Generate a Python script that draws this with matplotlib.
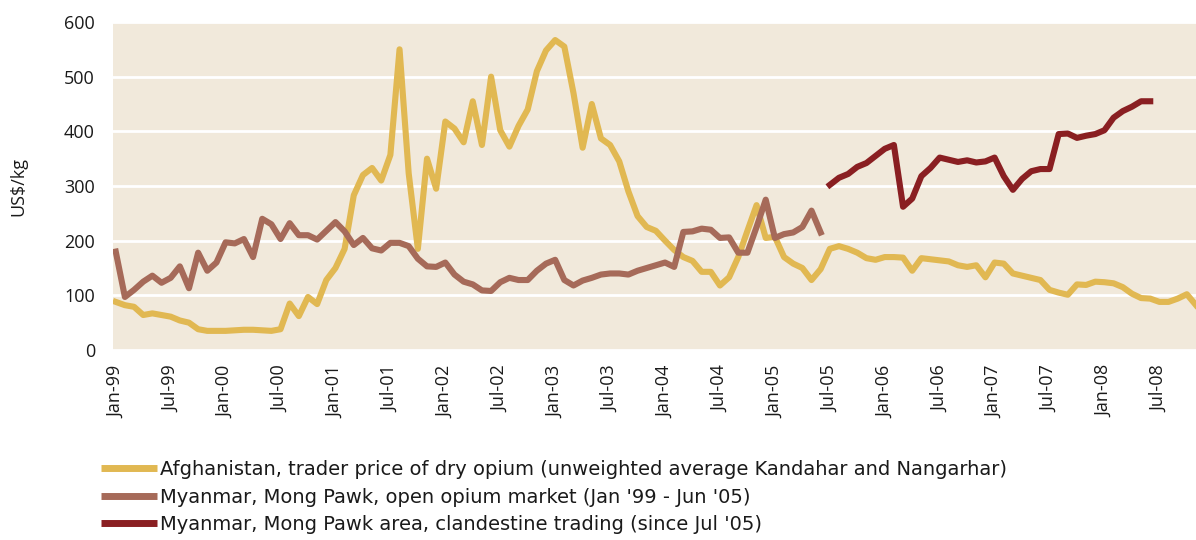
import numpy as np
import matplotlib
matplotlib.use("Agg")
import matplotlib.pyplot as plt

# monthly prices, US$/kg, index 0 = Jan-99
afghanistan = [
    88, 82, 79, 64, 67, 64, 61, 54, 50, 38, 35, 35,
    35, 36, 37, 37, 36, 35, 38, 85, 62, 97, 84, 128,
    150, 185, 283, 320, 333, 310, 357, 550, 323, 185, 350, 295,
    418, 405, 380, 455, 375, 500, 402, 372, 410, 440, 510, 548,
    567, 555, 470, 370, 450, 387, 375, 345, 290, 245, 225, 218,
    200, 183, 170, 163, 143, 143, 118, 133, 170, 218, 265, 205,
    207, 170, 158, 150, 128, 148, 185, 190, 185, 178, 168, 165,
    170, 170, 169, 145, 168, 166, 164, 162, 155, 152, 155, 133,
    160, 158, 140, 136, 132, 128, 110, 105, 101, 120, 119, 125,
    124, 122, 115, 103, 95, 94, 88, 88, 94, 102, 82,
]
myanmar_open = [
    180, 97, 110, 125, 136, 123, 132, 153, 113, 178, 145, 160,
    197, 195, 203, 170, 240, 230, 203, 232, 210, 210, 202, 218,
    234, 217, 192, 205, 186, 182, 196, 196, 190, 167, 153, 152,
    160, 138, 125, 120, 109, 108, 124, 132, 128, 128, 145, 158,
    165, 128, 118, 127, 132, 138, 140, 140, 138, 145, 150, 155,
    160, 152, 216, 217, 222, 220, 205, 206, 178, 178, 225, 275,
    205, 212, 215, 225, 255, 215,
]
myanmar_clandestine = [
    302, 315, 322, 335, 342, 355, 368, 375, 262, 277, 318, 333,
    352, 348, 344, 347, 343, 345, 352, 318, 293, 313, 327, 331,
    331, 395, 396, 388, 392, 395, 402, 425, 437, 445, 455, 455,
]
clandestine_start = 78  # Jul-05

tick_labels = ["Jan-99", "Jul-99", "Jan-00", "Jul-00", "Jan-01", "Jul-01",
               "Jan-02", "Jul-02", "Jan-03", "Jul-03", "Jan-04", "Jul-04",
               "Jan-05", "Jul-05", "Jan-06", "Jul-06", "Jan-07", "Jul-07",
               "Jan-08", "Jul-08"]

labels = [
    "Afghanistan, trader price of dry opium (unweighted average Kandahar and Nangarhar)",
    "Myanmar, Mong Pawk, open opium market (Jan '99 - Jun '05)",
    "Myanmar, Mong Pawk area, clandestine trading (since Jul '05)",
]
colors = ["#e1b852", "#a66a59", "#8a1f22"]

plt.rcParams["font.family"] = ["Open Sans", "DejaVu Sans"]

fig = plt.figure(figsize=(11.96, 5.40), dpi=100)
ax = fig.add_axes([113 / 1196, 1 - 350 / 540, 1 - 113 / 1196, 328 / 540])
ax.set_facecolor("#f1e9db")

x_afg = np.arange(len(afghanistan))
x_open = np.arange(len(myanmar_open))
x_cl = np.arange(len(myanmar_clandestine)) + clandestine_start

lw = 4.4
ax.plot(x_afg, afghanistan, color=colors[0], lw=lw, label=labels[0], zorder=3)
ax.plot(x_open, myanmar_open, color=colors[1], lw=lw, label=labels[1], zorder=4)
ax.plot(x_cl, myanmar_clandestine, color=colors[2], lw=lw, label=labels[2], zorder=4)

ax.set_ylim(0, 600)
ax.set_xlim(-0.3, 118)
ax.set_yticks(np.arange(0, 601, 100))
ax.set_xticks(np.arange(0, 6 * len(tick_labels), 6))
ax.set_xticklabels(tick_labels, rotation=90)
ax.tick_params(length=0, labelsize=13, colors="#1a1a1a")
ax.tick_params(axis="y", pad=13)
ax.tick_params(axis="x", pad=11)
ax.grid(axis="y", color="white", lw=2)
ax.set_axisbelow(True)
for s in ax.spines.values():
    s.set_visible(False)

fig.text(18 / 1196, 1 - 186 / 540, "US$/kg", rotation=90, fontsize=13,
         ha="center", va="center", color="#1a1a1a")

leg = fig.legend(loc="upper left", bbox_to_anchor=(101 / 1196, 1 - 460 / 540),
                 frameon=False, handlelength=2.9, handletextpad=0.12,
                 labelspacing=0.44, borderaxespad=0, borderpad=0,
                 prop={"family": "DejaVu Sans", "size": 14})
for line in leg.get_lines():
    line.set_linewidth(5)
    line.set_solid_capstyle("butt")
for t in leg.get_texts():
    t.set_color("#1a1a1a")

fig.savefig("out.png", dpi=100)
